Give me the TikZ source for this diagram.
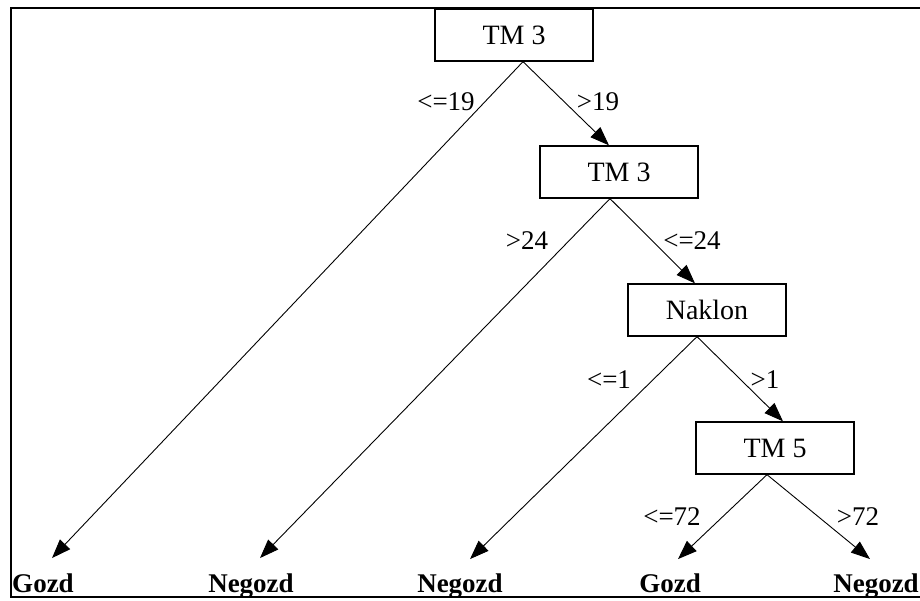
\documentclass[tikz,border=0pt]{standalone}
\usepackage{fontspec}
\setmainfont{Liberation Serif}
\usetikzlibrary{arrows.meta}
\begin{document}
\begin{tikzpicture}[x=1pt,y=-1pt,
  testbox/.style={draw,line width=1.3pt,minimum width=158pt,minimum height=52pt,inner sep=0pt,font=\fontsize{28}{30}\selectfont},
  leaf/.style={inner sep=0pt,anchor=base,font=\fontsize{27}{29}\selectfont\bfseries},
  lbl/.style={inner sep=0pt,font=\fontsize{27}{29}\selectfont},
  edge/.style={line width=0.9pt,-{Triangle[length=19pt,width=14pt]}}]
\useasboundingbox (0,0) rectangle (920,600);
\draw[line width=1.6pt] (11,8) rectangle (921,597);
% decision boxes
\node[testbox] (t1) at (514,35) {TM 3};
\node[testbox] (t2) at (619,172) {TM 3};
\node[testbox] (nk) at (707,310) {Naklon};
\node[testbox] (t5) at (775,448) {TM 5};
% leaves
\node[leaf] (l1) at (43,592) {Gozd};
\node[leaf] (l2) at (251,592) {Negozd};
\node[leaf] (l3) at (460,592) {Negozd};
\node[leaf] (l4) at (670,592) {Gozd};
\node[leaf] (l5) at (876,592) {Negozd};
% connectors
\draw[edge] ([xshift=9pt]t1.south) -- ([xshift=-10pt]t2.north);
\draw[edge] ([xshift=9pt]t1.south) -- ([xshift=9pt,yshift=15pt]l1.north);
\draw[edge] ([xshift=-9pt]t2.south) -- ([xshift=9pt,yshift=15pt]l2.north);
\draw[edge] ([xshift=-9pt]t2.south) -- ([xshift=-12pt]nk.north);
\draw[edge] ([xshift=-10pt]nk.south) -- ([xshift=10pt,yshift=14pt]l3.north);
\draw[edge] ([xshift=-10pt]nk.south) -- ([xshift=8pt]t5.north);
\draw[edge] ([xshift=-8pt]t5.south) -- ([xshift=8pt,yshift=14pt]l4.north);
\draw[edge] ([xshift=-8pt]t5.south) -- ([xshift=-6pt,yshift=14pt]l5.north);
% edge labels
\node[lbl] (e1) at (446,102) {<=19};
\node[lbl] (e2) at (598,102) {>19};
\node[lbl] (e3) at (527,241) {>24};
\node[lbl] (e4) at (692,241) {<=24};
\node[lbl] (e5) at (609,380) {<=1};
\node[lbl] (e6) at (765,380) {>1};
\node[lbl] (e7) at (672,517) {<=72};
\node[lbl] (e8) at (858,517) {>72};
\end{tikzpicture}
\end{document}
